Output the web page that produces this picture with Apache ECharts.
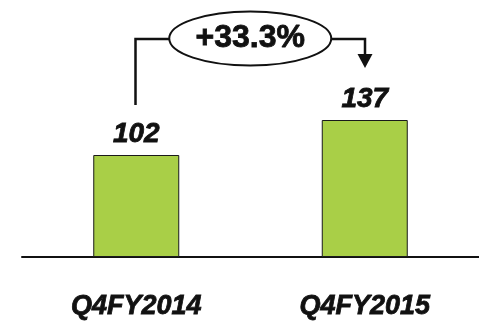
<!DOCTYPE html>
<html>
<head>
<meta charset="utf-8">
<style>
  html, body { margin: 0; padding: 0; background: #fff; }
  #chart { width: 479px; height: 322px; }
</style>
<script src="https://cdn.jsdelivr.net/npm/echarts@6/dist/echarts.min.js"></script>
</head>
<body>
<div id="chart"></div>
<script>
// Quarterly figures
const categories = ['Q4FY2014', 'Q4FY2015'];
const values = [102, 137];
const growthLabel = '+33.3%';

const FONT = '"Liberation Sans", Arial, sans-serif';
const INK = '#111';
const chart = echarts.init(document.getElementById('chart'), null, { renderer: 'canvas' });

chart.setOption({
  animation: false,
  grid: { left: 22, right: -7, top: 57, bottom: 65 },
  xAxis: {
    type: 'category',
    data: categories,
    axisLine: { lineStyle: { color: INK, width: 2 } },
    axisTick: { show: false },
    axisLabel: {
      margin: 36,
      color: INK,
      fontFamily: FONT,
      fontSize: 27,
      fontWeight: 'bold',
      fontStyle: 'italic',
      textBorderColor: INK,
      textBorderWidth: 0.8
    }
  },
  yAxis: {
    type: 'value',
    min: 0,
    max: 200,
    show: false,
    splitLine: { show: false }
  },
  series: [{
    type: 'bar',
    data: values,
    barWidth: 86,
    itemStyle: { color: '#A9CF47', borderColor: '#1a1a1a', borderWidth: 1 },
    label: {
      show: true,
      position: 'top',
      distance: 7,
      color: INK,
      fontFamily: FONT,
      fontSize: 28,
      fontWeight: 'bold',
      fontStyle: 'italic',
      textBorderColor: INK,
      textBorderWidth: 0.8
    }
  }]
});

// Growth bracket from the first bar to the second, with the change in an ellipse
function drawBracket() {
  const p1 = chart.convertToPixel({ gridIndex: 0 }, [0, values[0]]);
  const p2 = chart.convertToPixel({ gridIndex: 0 }, [1, values[1]]);
  const x1 = Math.round(p1[0]) - 0.5;
  const x2 = Math.round(p2[0]);
  const yBar = 39;
  const cx = (x1 + x2) / 2;
  const rx = 81, ry = 27;
  const stroke = { stroke: INK, lineWidth: 2.5, fill: null };
  const tipY = p2[1] - 52;
  chart.setOption({
    graphic: [
      { type: 'polyline', shape: { points: [[x1, p1[1] - 50], [x1, yBar], [cx - rx, yBar]] }, style: stroke },
      { type: 'polyline', shape: { points: [[cx + rx, yBar], [x2, yBar], [x2, tipY - 12]] }, style: stroke },
      { type: 'polygon', shape: { points: [[x2 - 7.5, tipY - 14], [x2 + 7.5, tipY - 14], [x2, tipY]] }, style: { fill: INK } },
      { type: 'ellipse', shape: { cx: cx, cy: 38.5, rx: rx, ry: ry }, style: { fill: '#fff', stroke: INK, lineWidth: 2 } },
      {
        type: 'text', x: cx, y: 38,
        style: {
          text: growthLabel, align: 'center', verticalAlign: 'middle',
          font: 'bold 32px ' + FONT, fill: INK,
          stroke: INK, lineWidth: 0.8
        }
      }
    ]
  });
}
drawBracket();
</script>
</body>
</html>
